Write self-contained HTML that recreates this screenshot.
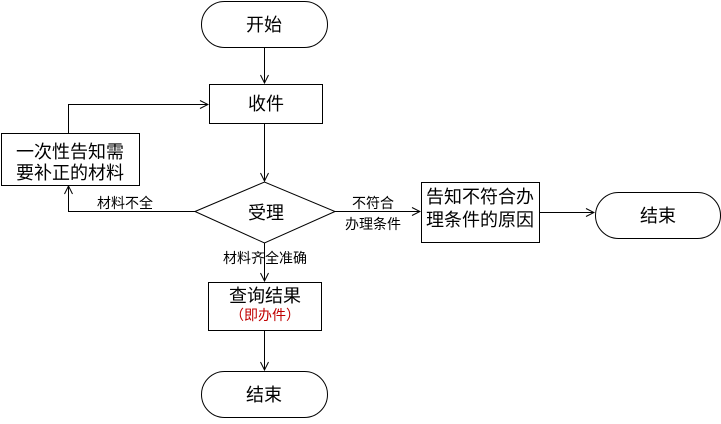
<!DOCTYPE html>
<html><head><meta charset="utf-8"><style>
body{margin:0;background:#fff}
svg text{font-family:"Liberation Sans","Noto Sans CJK SC",sans-serif;fill:#000}
</style></head><body>
<svg width="721" height="419" viewBox="0 0 721 419" xmlns="http://www.w3.org/2000/svg">
<defs><marker id="a" markerWidth="10" markerHeight="10" refX="9" refY="5" orient="auto" markerUnits="userSpaceOnUse"><path d="M1,1 L9,5 L1,9" fill="none" stroke="#000" stroke-width="1"/></marker></defs>
<g fill="none" stroke="#000" stroke-width="1">
<rect x="201.5" y="1.5" width="126" height="46" rx="23"/>
<rect x="209.5" y="84.5" width="113" height="39"/>
<rect x="1.5" y="133.5" width="138" height="52"/>
<polygon points="195,211.5 264.5,182 335,211.5 264.5,243"/>
<rect x="208.5" y="282.5" width="113" height="48"/>
<rect x="201.5" y="371.5" width="126" height="46" rx="23"/>
<rect x="421.5" y="182.5" width="118" height="60"/>
<rect x="595.5" y="192.5" width="125" height="46" rx="23"/>
<path d="M264.5,47 V83" marker-end="url(#a)"/>
<path d="M264.5,123 V181" marker-end="url(#a)"/>
<path d="M68.5,133 V104.5 H208" marker-end="url(#a)"/>
<path d="M195,211.5 H68.5 V186" marker-end="url(#a)"/>
<path d="M264.5,243 V281" marker-end="url(#a)"/>
<path d="M264.5,330 V370" marker-end="url(#a)"/>
<path d="M335,211.5 H420" marker-end="url(#a)"/>
<path d="M539,212.5 H594" marker-end="url(#a)"/>
</g>
<g font-size="18" text-anchor="middle">
<text x="264" y="31">开始</text>
<text x="266" y="110">收件</text>
<text x="70" y="158">一次性告知需</text>
<text x="70" y="179">要补正的材料</text>
<text x="266" y="219">受理</text>
<text x="265" y="302">查询结果</text>
<text x="264" y="401">结束</text>
<text x="480" y="203">告知不符合办</text>
<text x="480" y="226">理条件的原因</text>
<text x="658" y="222">结束</text>
</g>
<g font-size="14" text-anchor="middle">
<text x="125" y="208">材料不全</text>
<text x="265" y="263">材料齐全准确</text>
<text x="373" y="208">不符合</text>
<text x="373" y="229">办理条件</text>
<text x="265" y="320" style="fill:#c00000">（即办件）</text>
</g>
</svg>
</body></html>
